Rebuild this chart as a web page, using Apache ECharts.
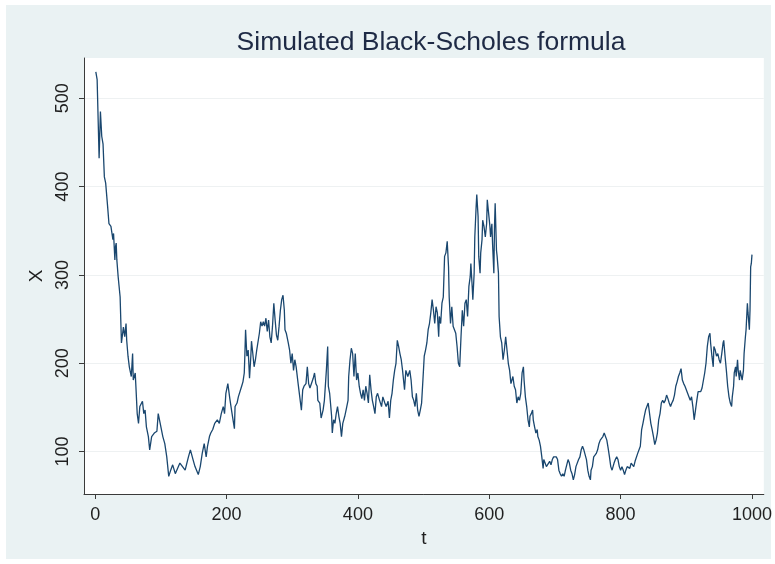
<!DOCTYPE html>
<html>
<head>
<meta charset="utf-8">
<script src="https://cdn.jsdelivr.net/npm/echarts@6/dist/echarts.min.js"></script>
<style>
html,body{margin:0;padding:0;background:#ffffff;width:775px;height:564px;overflow:hidden}
#bg{position:absolute;left:6px;top:5px;width:765px;height:554px;background:#eaf2f3}
#chart{position:absolute;left:0;top:0;width:775px;height:564px}
</style>
</head>
<body>
<div id="bg"></div>
<div id="chart"></div>
<script>
const chartTitle = "Simulated Black-Scholes formula";
const xTitle = "t";
const yTitle = "X";
const xTicks = [0, 200, 400, 600, 800, 1000];
const yTicks = [100, 200, 300, 400, 500];

const tVals = [
1,3,5,6,8,10,12,14,16,19,21,24,27,28,30,31,32,33,35,37,38,39,40,43,45,47,48,50,52,55,57,58,61,62,64,66,68,72,74,76,78,81,83,86,90,94,96,99,
103,106,109,112,115,118,122,125,129,133,137,142,145,149,152,157,160,163,166,169,171,174,176,179,182,186,189,192,195,197,199,202,
205,208,210,212,213,216,218,220,223,225,227,228,229,231,233,235,237,238,240,242,244,246,248,250,252,254,256,258,260,262,264,266,268,270,272,274,276,278,280,282,284,286,288,289,291,294,296,298,
300,302,304,306,309,311,314,316,318,321,323,325,327,329,332,334,336,338,339,342,344,347,349,352,354,355,357,360,361,363,365,367,369,371,373,375,377,380,382,385,386,388,390,392,394,396,398,
400,402,404,406,408,410,412,414,416,418,420,422,424,426,428,430,433,436,438,441,443,446,448,450,452,454,456,458,460,462,
464,466,468,471,473,476,479,481,483,485,487,489,491,493,495,497,499,501,503,505,507,509,511,513,515,517,519,521,523,524,526,528,530,532,534,536,538,539,541,543,545,547,549,551,553,555,557,559,561,563,565,567,569,571,572,574,575,577,578,580,581,583,584,586,587,589,590,592,594,596,597,599,
601,602,604,605,607,608,609,611,612,614,615,617,619,621,623,625,627,629,631,633,636,638,640,642,
644,646,648,650,652,653,655,657,659,661,662,664,666,667,669,671,673,674,676,678,680,682,683,685,687,690,692,694,696,698,700,702,704,706,708,710,712,714,716,718,720,722,724,726,728,730,732,734,736,738,740,742,744,746,748,750,752,754,755,757,759,761,763,765,767,769,771,773,775,777,779,781,783,785,787,790,792,794,796,798,800,802,804,806,
808,810,812,814,816,818,820,822,824,826,828,830,832,834,836,838,840,842,844,846,848,850,852,854,856,858,860,862,864,866,868,870,872,874,876,878,880,882,884,886,888,890,892,894,896,898,900,902,904,906,908,910,912,914,916,918,920,922,924,926,928,
930,932,934,936,937,939,941,942,944,946,948,950,952,954,956,957,959,961,963,965,967,969,970,972,973,975,976,978,979,981,982,984,985,987,988,990,991,993,994,996,997,998,999,1000
];

const xVals = [
530,521,462,432,485,457,448,411,404,377,358,355,340,347,317,332,336,317,298,300,275,249,223,241,230,245,226,208,196,185,211,181,189,174,143,132,151,157,143,147,128,117,102,117,121,123,143,132,
117,109,94,72,79,85,75,77,87,83,79,94,102,91,83,74,83,98,109,94,106,117,121,125,132,136,132,143,151,143,166,177,
160,145,147,126,151,155,162,162,174,179,189,211,238,208,215,183,208,225,211,196,204,215,215,234,247,242,247,242,251,236,249,230,223,242,268,249,232,226,242,260,272,277,260,238,234,223,215,200,
211,192,204,196,177,175,147,170,174,177,196,177,172,174,183,189,177,174,158,155,138,147,158,192,219,174,166,140,121,136,132,143,151,140,132,117,132,140,147,158,185,204,217,211,185,211,181,
189,174,166,160,170,158,174,166,155,187,170,158,151,143,162,166,158,151,162,155,151,157,138,158,166,181,192,200,226,219,
211,204,192,170,192,185,192,181,162,158,151,166,147,140,147,155,181,208,215,223,238,245,257,272,260,245,264,257,230,253,245,268,275,321,325,338,309,275,245,264,242,242,234,219,200,196,230,260,242,268,272,253,287,298,313,287,272,302,343,377,391,366,321,302,325,340,362,355,343,358,385,370,
355,343,358,336,302,355,381,328,321,302,253,230,223,204,215,230,215,200,192,177,185,174,170,155,
162,158,166,189,196,181,162,151,136,128,140,143,147,136,128,121,125,117,113,106,94,81,91,87,83,81,89,85,91,94,96,94,91,79,75,72,75,72,79,85,91,87,79,75,68,74,83,83,91,94,102,106,102,104,91,79,72,68,79,83,94,96,98,102,109,113,111,117,121,121,113,104,94,83,79,87,91,94,91,83,79,83,79,74,
79,83,85,81,87,85,83,89,91,98,100,106,125,132,140,147,149,155,157,132,125,117,108,113,121,136,143,155,158,155,158,164,160,155,151,155,158,164,174,179,185,189,194,181,177,174,174,166,162,158,162,151,136,147,158,168,166,168,172,174,189,
200,219,230,234,223,208,196,219,215,208,211,204,200,211,223,226,208,192,174,162,155,151,162,174,189,196,185,204,192,181,192,185,181,192,211,230,238,268,257,238,260,309,313,323
];

const seriesData = tVals.map((t, i) => [t, xVals[i]]);
const FONT = "'Liberation Sans', Arial, Helvetica, sans-serif";
const axisColor = '#3a3a3a';
const textColor = '#1f1f1f';

const chart = echarts.init(document.getElementById('chart'), null, {renderer: 'canvas'});
chart.setOption({
  animation: false,
  backgroundColor: 'transparent',
  title: {
    text: chartTitle,
    left: 426,
    textAlign: 'center',
    top: 24,
    textStyle: {fontFamily: FONT, fontSize: 26.5, fontWeight: 'normal', color: '#1e2a45'}
  },
  grid: {
    left: 84, top: 58, right: 8, bottom: 70,
    show: true, backgroundColor: '#ffffff', borderWidth: 0,
    containLabel: false
  },
  xAxis: {
    type: 'value',
    min: -17, max: 1018,
    name: xTitle,
    nameLocation: 'middle',
    nameGap: 33,
    nameTextStyle: {fontFamily: FONT, fontSize: 19, color: textColor},
    axisLine: {show: true, onZero: false, lineStyle: {color: axisColor, width: 1}},
    axisTick: {show: true, length: 5, customValues: xTicks, lineStyle: {color: axisColor, width: 1}},
    axisLabel: {customValues: xTicks, formatter: v => String(v), fontFamily: FONT, fontSize: 18, color: textColor, margin: 12},
    splitLine: {show: false}
  },
  yAxis: {
    type: 'value',
    min: 52, max: 545.6,
    name: yTitle,
    nameLocation: 'middle',
    nameRotate: 90,
    nameGap: 37,
    nameTextStyle: {fontFamily: FONT, fontSize: 19, color: textColor},
    axisLine: {show: true, onZero: false, lineStyle: {color: axisColor, width: 1}},
    axisTick: {show: true, length: 5, customValues: yTicks, lineStyle: {color: axisColor, width: 1}},
    axisLabel: {customValues: yTicks, formatter: v => String(v), rotate: 90, fontFamily: FONT, fontSize: 18, color: textColor, margin: 12},
    splitLine: {show: true, lineStyle: {color: '#eef1f2', width: 1}}
  },
  series: [{
    type: 'line',
    data: seriesData,
    showSymbol: false,
    symbol: 'none',
    lineStyle: {color: '#1a476f', width: 1.3},
    clip: true
  }]
});
</script>
</body>
</html>
